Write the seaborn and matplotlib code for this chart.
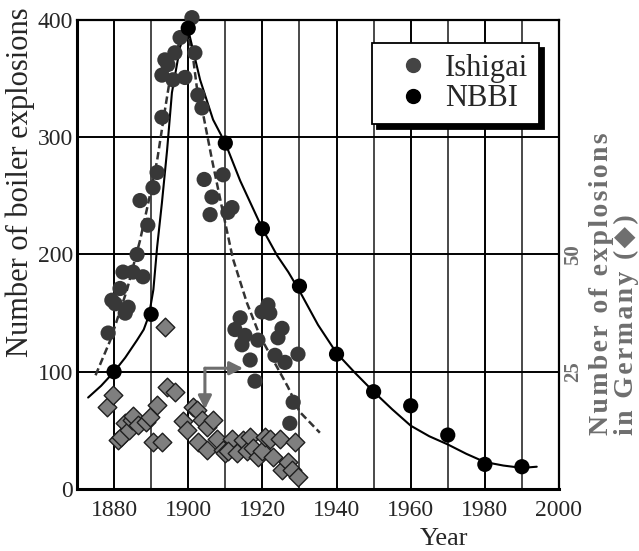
import matplotlib
matplotlib.use("Agg")
import matplotlib.pyplot as plt
from matplotlib.lines import Line2D
from matplotlib.ticker import FixedLocator
import seaborn as sns

# ---------------- data ----------------
ishigai_year = [1878.4, 1879.4, 1880.3, 1881.6, 1882.4, 1883.0, 1883.8, 1885.1, 1886.2, 1887.0,
                1887.8, 1889.1, 1890.5, 1891.6, 1892.9, 1892.9, 1893.7, 1894.5, 1895.9, 1896.4,
                1897.8, 1899.1, 1901.0, 1901.8, 1902.6, 1903.7, 1904.3, 1906.4, 1905.9, 1909.4,
                1910.7, 1911.8, 1912.6, 1914.0, 1914.5, 1915.3, 1916.7, 1918.0, 1918.8, 1919.9,
                1921.5, 1922.0, 1923.4, 1924.2, 1925.3, 1926.1, 1929.6, 1928.3, 1927.4]
ishigai_count = [133, 161, 158, 171, 185, 150, 155, 185, 200, 246,
                 181, 225, 257, 270, 317, 353, 366, 362, 349, 372,
                 385, 351, 402, 372, 336, 325, 264, 249, 234, 268,
                 236, 240, 136, 146, 123, 131, 110, 92, 127, 151,
                 157, 150, 114, 129, 137, 108, 115, 74, 56]

nbbi_year = [1880, 1890, 1900, 1910, 1920, 1930, 1940, 1950, 1960, 1970, 1980, 1990]
nbbi_count = [100, 149, 393, 295, 222, 173, 115, 83, 71, 46, 21, 19]

ishigai_fit_year = [1875, 1879, 1883.5, 1887, 1889.5, 1891.6, 1893.7, 1895.5, 1897.5, 1899.6,
                    1901.3, 1902.3, 1904, 1906.4, 1909.1, 1912, 1915.8, 1919.4, 1922.9, 1926.9,
                    1930, 1935.5]
ishigai_fit_count = [97, 127, 170, 212, 248, 280, 323, 358, 380, 393,
                     368, 343, 320, 281, 240, 197, 159, 130, 110, 87,
                     66, 48]

nbbi_fit_year = [1873, 1876.5, 1880, 1883, 1886.2, 1888, 1889.4, 1890.6, 1891.6, 1892.9,
                 1894.3, 1895.6, 1897.8, 1899.7, 1900.2, 1903.2, 1906.7, 1910, 1914, 1920,
                 1924, 1927, 1930, 1935, 1940, 1945, 1950, 1955, 1960, 1965,
                 1970, 1975, 1980, 1985, 1990, 1994]
nbbi_fit_count = [78, 88, 100, 112, 127, 136, 148, 170, 206, 244,
                  289, 338, 377, 393, 389, 349, 315, 295, 263, 222,
                  199, 185, 169, 140, 116, 99, 83, 68, 54, 45,
                  38, 30, 23, 20, 18, 19]

germany_year = [1878.0, 1879.8, 1881.0, 1881.8, 1882.9, 1884.0, 1884.8, 1885.2, 1886.4, 1888.5,
                1889.7, 1891.6, 1890.5, 1893.0, 1893.7, 1894.3, 1896.4, 1898.6, 1899.6, 1901.3,
                1902.3, 1903.7, 1905.0, 1906.7, 1902.7, 1905.0, 1907.8, 1909.4, 1910.0, 1911.8,
                1910.7, 1913.1, 1914.8, 1915.8, 1916.7, 1917.5, 1918.8, 1919.9, 1920.7, 1922.0,
                1922.9, 1924.7, 1925.3, 1926.9, 1928.0, 1928.8, 1929.6]
germany_count = [17.5, 20, 10.5, 11, 14, 12.5, 14.75, 15.5, 13.75, 14.25,
                 15.25, 18, 10, 10, 34.5, 21.75, 20.75, 14.5, 12.5, 17.5,
                 16.75, 14.75, 13.25, 14.75, 10, 8.25, 10.75, 8.25, 7.75, 10.75,
                 8, 7.75, 10.5, 8, 11, 8.75, 6.75, 8, 11, 10.75,
                 6.75, 10.75, 4, 5.75, 4, 10, 2.5]

x_ticks = [1880, 1900, 1920, 1940, 1960, 1980, 2000]
x_minor = [1890, 1910, 1930, 1950, 1970, 1990]
y_ticks = [0, 100, 200, 300, 400]
right_ticks = [25, 50]
right_tick_labels = ["25", "50"]

arrow_start = (1904.5, 103)
arrow_down_end = (1904.5, 68)
arrow_right_end = (1914.8, 103)

# ---------------- style ----------------
sns.set_style("white")
plt.rcParams["font.family"] = ["Liberation Serif", "DejaVu Serif"]

ISH = "#383838"
GREY = "#6e6e6e"

fig = plt.figure(figsize=(6.39, 5.51), dpi=100)
ax = fig.add_axes([77 / 639, 62 / 551, 482 / 639, 469 / 551])
ax.set_xlim(1870, 2000)
ax.set_ylim(0, 400)

# grid
ax.xaxis.set_major_locator(FixedLocator(x_ticks))
ax.xaxis.set_minor_locator(FixedLocator(x_minor))
ax.yaxis.set_major_locator(FixedLocator(y_ticks))
ax.grid(which="major", axis="both", color="black", lw=1.4)
ax.grid(which="minor", axis="x", color="#4a4a4a", lw=1.4)
ax.set_axisbelow(True)

for s in ax.spines.values():
    s.set_color("black")
    s.set_linewidth(1.6)
ax.spines["left"].set_linewidth(2.2)
ax.spines["bottom"].set_linewidth(2.2)

ax.tick_params(axis="both", which="both", length=0, labelsize=17)
ax.tick_params(axis="x", pad=8)
ax.tick_params(axis="y", pad=3)
ax.set_xticklabels([str(t) for t in x_ticks])
ax.set_yticklabels([str(t) for t in y_ticks])
ax.set_xlabel("")
ax.set_ylabel("")

# curves
sns.lineplot(x=ishigai_fit_year, y=ishigai_fit_count, ax=ax, color="#333333",
             lw=1.8, linestyle=(0, (3, 1.5)), sort=False, zorder=2)
sns.lineplot(x=nbbi_fit_year, y=nbbi_fit_count, ax=ax, color="black",
             lw=1.5, sort=False, zorder=2)

# points
sns.scatterplot(x=ishigai_year, y=ishigai_count, ax=ax, color=ISH, s=120,
                linewidth=0, edgecolor="none", zorder=3, clip_on=False)
sns.scatterplot(x=nbbi_year, y=nbbi_count, ax=ax, color="black", s=120,
                linewidth=0, edgecolor="none", zorder=4, clip_on=False)

# arrows
ax.annotate("", xy=arrow_down_end, xytext=arrow_start,
            arrowprops=dict(arrowstyle="-|>", color=GREY, lw=2.2,
                            mutation_scale=20, shrinkA=0, shrinkB=0), zorder=5)
ax.annotate("", xy=arrow_right_end, xytext=arrow_start,
            arrowprops=dict(arrowstyle="-|>", color=GREY, lw=2.2,
                            mutation_scale=20, shrinkA=0, shrinkB=0), zorder=5)

# right axis (Germany)
ax2 = ax.twinx()
ax2.set_ylim(0, 100)
sns.scatterplot(x=germany_year, y=germany_count, ax=ax2, marker="D", s=90,
                color="#7f7f7f", edgecolor="#1e1e1e", linewidth=1.0, zorder=3)
ax2.set_yticks(right_ticks)
ax2.set_yticklabels(right_tick_labels, rotation=90, va="center",
                    fontweight="bold", color=GREY)
ax2.tick_params(axis="y", length=0, pad=3, labelsize=15)
ax2.set_ylabel("")
for s in ax2.spines.values():
    s.set_visible(False)
ax2.grid(False)

# legend
handles = [Line2D([], [], marker="o", ls="none", color="#444444", markersize=10),
           Line2D([], [], marker="o", ls="none", color="black", markersize=10)]
leg = ax2.legend(handles, ["Ishigai", "NBBI"], loc="upper right",
                 bbox_to_anchor=((539 - 77) / 482, (489 - 43) / 469),
                 borderaxespad=0, frameon=True, fancybox=False, framealpha=1,
                 edgecolor="black", fontsize=22, handletextpad=0.05,
                 handlelength=2.0, labelspacing=0.05, borderpad=0.35,
                 shadow={"ox": 3.5, "oy": -3.5, "facecolor": "black",
                         "edgecolor": "black", "alpha": 1})
leg.get_frame().set_linewidth(1.3)

# labels
fig.text(20 / 639, 1 - 182 / 551, "Number of boiler explosions", rotation=90,
         ha="center", va="center", fontsize=22)
fig.text(444 / 639, 1 - 539 / 551, "Year", ha="center", va="center", fontsize=19)

spaced = lambda s: "\u200a".join(list(s))
right_label = spaced("Number of explosions") + "\n" + spaced("in Germany (") + "\u200a\u25C6\u200a" + ")"
fig.text(614 / 639, 1 - 435 / 551, right_label, rotation=90, rotation_mode="anchor",
         ha="left", va="center", multialignment="left", fontsize=20,
         fontweight="bold", color=GREY, linespacing=1.0)

fig.savefig("out.png", dpi=100)
